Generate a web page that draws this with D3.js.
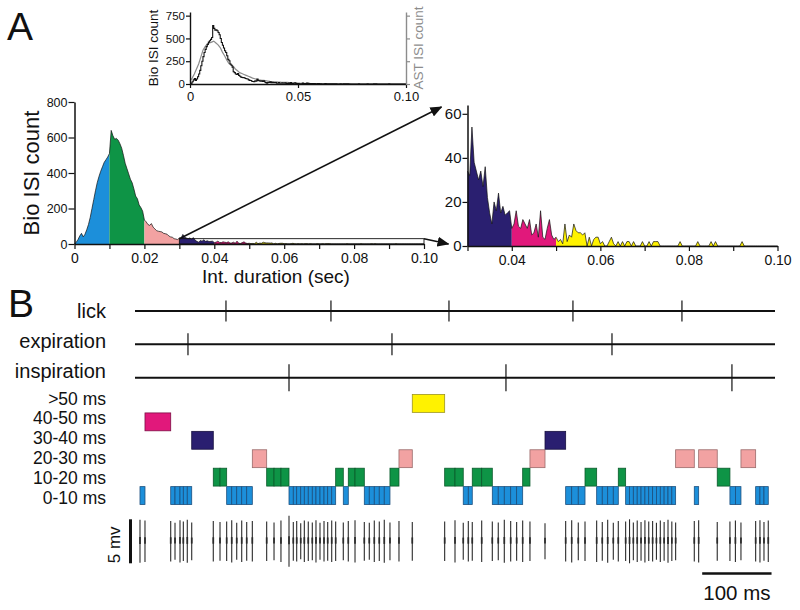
<!DOCTYPE html>
<html><head><meta charset="utf-8">
<script src="https://cdn.jsdelivr.net/npm/d3@7/dist/d3.min.js"></script>
<style>
body{margin:0;background:#fff}
svg{display:block}
text{font-family:"Liberation Sans",Arial,Helvetica,sans-serif;fill:#111}
</style>
</head><body>
<svg id="c" width="800" height="610"></svg>
<script>
// ---------------- DATA ----------------
// Bio ISI histogram: counts at t = k * binWidth (sec), k = 0..200
const binWidth = 0.0005;
const bioCounts = [
  0,10,25,45,60,40,55,80,110,150,200,250,300,345,380,410,435,460,475,490,510,
  640,610,590,595,585,565,540,500,455,425,395,365,345,310,270,255,220,205,185,135,
  125,110,105,115,95,85,75,72,70,68,60,58,55,45,40,38,30,28,25,34,
  32,54,38,34,30,34,27,36,22,15,10,20,16,24,15,18,14,15,16,8,
  10,16,9,8,12,10,8,12,5,6,10,4,16,4,3,8,12,5,3,4,
  2,3,1,10,2,5,4,10,7,6,6,5,6,0,4,0,3,4,4,1,
  2,0,0,2,4,1,0,2,0,2,0,2,2,0,2,0,0,0,2,0,
  0,2,0,2,2,2,0,0,0,0,0,0,0,0,0,2,0,0,0,0,
  0,0,0,2,0,0,0,0,0,2,0,2,0,0,0,0,0,0,0,0,
  0,0,0,2,0,0,0,0,0,0,0,0,0,0,0,0,0,0,0,0
];
// AST ISI histogram (inset, grey): counts at t = k * astStep, k = 0..100
const astStep = 0.001;
const astCounts = [
  30,65,110,165,220,295,370,410,440,450,460,470,450,430,400,350,310,265,225,215,
  195,165,145,125,115,105,95,85,75,65,58,50,45,42,40,37,33,29,26,24,
  23,22,20,19,18,17,16,15,13,12,11,9,8,7,6,6,5,5,4,4,
  4,4,3,3,3,2,2,2,2,1,1,1,1,1,1,0,0,0,0,0,
  0,0,0,0,0,0,0,0,0,0,0,0,0,0,0,0,0,0,0,0,0
];
const isiBounds = [0, 0.01, 0.02, 0.03, 0.04, 0.05, 0.10];
const isiCategories = ["0-10 ms", "10-20 ms", "20-30 ms", "30-40 ms", "40-50 ms", ">50 ms"];
const isiColors = ["#1C8FDA", "#0E9446", "#F2A2A2", "#2A1F70", "#E1187B", "#FFF200"];
const isiStrokes = ["#1B4F7E", "#0B5A2B", "#9A6A6A", "#17113F", "#7D0E45", "#9C9420"];

const mainXTicks = [0,0.01,0.02,0.03,0.04,0.05,0.06,0.07,0.08,0.09,0.10];
const mainYTicks = [0,200,400,600,800];
const zoomXTicks = [0.03,0.04,0.05,0.06,0.07,0.08,0.09,0.10];
const zoomYTicks = [0,20,40,60];
const insetXTicks = [0,0.05,0.10];
const insetYTicks = [0,250,500,750];
const zoomWindow = {x:[0.03,0.10], y:[0,30]};

// Panel B (times in ms)
const eventRows = ["lick", "expiration", "inspiration"];
const lickTimes = [131.2, 282.6, 452.8, 631.6, 788.8];
const expirationTimes = [76.4, 370.6, 687.9];
const inspirationTimes = [222.1, 535.0, 860.9];
const spikeTimes = [
  7.2,14.4,51.5,57.7,64.9,69.7,75.4,81.8,112.9,122.6,
  132.2,139.5,146.7,153.9,161.1,169.2,189.9,200.5,210.5,222.1,
  228.3,233.2,239.0,244.2,249.9,255.7,261.0,266.8,272.6,277.9,
  283.7,289.4,300.4,307.6,317.3,330.7,337.9,345.1,352.3,359.5,
  367.7,380.7,399.9,446.6,461.5,473.4,480.7,486.4,500.0,515.3,
  523.9,532.6,541.8,550.4,559.1,569.6,591.3,621.1,629.8,639.3,
  649.0,665.8,673.9,681.7,689.8,697.0,707.6,713.2,718.7,724.3,
  729.8,735.4,740.9,746.5,752.0,757.6,763.1,768.7,774.2,779.7,
  806.6,812.9,839.7,858.0,865.9,873.9,895.1,901.3,907.1,913.3
];
// class (index into isiCategories) of each interval between consecutive spikes
const isiClass = [
  0,4,0,0,0,0,0,3,1,1,0,0,0,0,0,2,1,1,1,
  0,0,0,0,0,0,0,0,0,0,0,0,
  1,0,1,1,
  0,0,0,0,0,
  1,2,5,1,1,0,0,1,1,
  0,0,0,0,0,
  1,2,3,0,0,0,1,0,0,0,0,1,
  0,0,0,0,0,0,0,0,0,0,0,0,0,
  2,0,2,1,0,0,2,0,0,0
];
// spike peak-to-peak amplitude (mV)
const spikeAmps = [
  4.9,4.7,4.6,4.2,4.8,4.5,4.9,4.3,4.6,4.4,
  4.5,4.8,4.2,4.7,4.4,4.6,4.5,4.3,4.7,5.8,
  4.4,4.6,4.1,4.7,4.5,4.3,4.8,4.2,4.6,4.4,
  4.7,4.5,4.3,4.6,4.8,4.4,4.2,4.7,4.5,4.9,
  4.3,4.6,4.4,4.5,4.8,4.2,4.6,4.4,4.7,4.5,
  4.3,4.9,4.6,4.4,4.7,4.5,4.1,4.6,4.8,4.3,
  4.5,4.7,4.4,4.9,4.2,4.6,4.5,5.0,4.3,4.7,
  4.4,4.8,4.5,4.6,4.2,4.7,4.4,4.9,4.5,4.3,
  4.6,4.8,4.4,4.5,4.7,4.3,4.6,4.8,4.4,4.7
];
const timeDomain = [0, 923];
const scaleBarMs = [818, 918];
const scaleBarMv = 5;

// ---------------- DRAW ----------------
const svg = d3.select("#c");
const FONT = '"Liberation Sans",Arial,sans-serif';
const fmtT = d => d === 0 ? "0" : d3.format(".2f")(d);

// arrow marker
svg.append("defs").append("marker")
  .attr("id","arr").attr("viewBox","0 0 12 10").attr("refX",11).attr("refY",5)
  .attr("markerWidth",12).attr("markerHeight",10).attr("markerUnits","userSpaceOnUse")
  .attr("orient","auto")
  .append("path").attr("d","M0,0 L12,5 L0,10 Z").attr("fill","#111");

function styleAxis(g, fs, sw) {
  g.select(".domain").attr("stroke","#111").attr("stroke-width", sw || 1.5);
  g.selectAll(".tick line").attr("stroke","#111").attr("stroke-width",1.2);
  g.selectAll(".tick text").attr("font-size", fs).attr("font-family", FONT).attr("fill","#111");
}

function drawHist(g, x, y, t0, t1) {
  const pts = bioCounts.map((c,i)=>({t:i*binWidth, c}))
    .filter(d => d.t >= t0 - 1e-9 && d.t <= t1 + 1e-9);
  for (let j = 0; j < isiBounds.length - 1; j++) {
    const a = isiBounds[j], b = isiBounds[j+1];
    const seg = pts.filter(d => d.t >= a - 1e-9 && d.t <= b + 1e-9);
    if (seg.length < 2) continue;
    g.append("path").datum(seg).attr("fill", isiColors[j])
      .attr("d", d3.area().x(d=>x(d.t)).y0(y(0)).y1(d=>y(d.c)));
  }
  g.append("path").datum(pts).attr("fill","none").attr("stroke","#111")
    .attr("stroke-width",0.7).attr("stroke-linejoin","round")
    .attr("d", d3.line().x(d=>x(d.t)).y(d=>y(d.c)));
}

// Panel letters
svg.append("text").attr("x",7).attr("y",40).attr("font-size",39).text("A");
svg.append("text").attr("x",8).attr("y",317).attr("font-size",39).text("B");

// ---- Inset ----
const xI = d3.scaleLinear().domain([0,0.10]).range([190,406]);
const yI = d3.scaleLinear().domain([0,790]).range([84,12]);
const gI = svg.append("g");
gI.append("path").datum(astCounts.map((c,i)=>({t:i*astStep,c})))
  .attr("fill","none").attr("stroke","#8c8c8c").attr("stroke-width",1.2)
  .attr("d", d3.line().x(d=>xI(d.t)).y(d=>yI(d.c)));
gI.append("path").datum(bioCounts.map((c,i)=>({t:i*binWidth,c})))
  .attr("fill","none").attr("stroke","#111").attr("stroke-width",1.1)
  .attr("d", d3.line().x(d=>xI(d.t)).y(d=>yI(d.c)).curve(d3.curveStepAfter));
const axIL = gI.append("g").attr("transform",`translate(${xI(0)},0)`)
  .call(d3.axisLeft(yI).tickValues(insetYTicks).tickSize(4).tickPadding(1).tickSizeOuter(0));
styleAxis(axIL, 11.5, 1.4);
const axIB = gI.append("g").attr("transform",`translate(0,${yI(0)})`)
  .call(d3.axisBottom(xI).tickValues(insetXTicks).tickFormat(fmtT).tickSize(4).tickPadding(4).tickSizeOuter(0));
styleAxis(axIB, 13, 1.4);
const axIR = gI.append("g").attr("transform",`translate(${xI(0.10)},0)`)
  .call(d3.axisRight(yI).tickValues(insetYTicks).tickFormat("").tickSize(4).tickSizeOuter(0));
axIR.select(".domain").attr("stroke","#8c8c8c").attr("stroke-width",1.4);
axIR.selectAll(".tick line").attr("stroke","#8c8c8c").attr("stroke-width",1.2);
gI.append("text").attr("transform",`translate(158,${yI(395)}) rotate(-90)`)
  .attr("text-anchor","middle").attr("font-size",13.5).text("Bio ISI count");
gI.append("text").attr("transform",`translate(423,${yI(395)}) rotate(-90)`)
  .attr("text-anchor","middle").attr("font-size",13.5).style("fill","#8c8c8c").text("AST ISI count");

// ---- Main histogram ----
const xM = d3.scaleLinear().domain([0,0.10]).range([74.5,424]);
const yM = d3.scaleLinear().domain([0,800]).range([244,102]);
const gM = svg.append("g");
drawHist(gM, xM, yM, 0, 0.10);
// zoom box
gM.append("rect").attr("x", xM(zoomWindow.x[0])).attr("y", yM(zoomWindow.y[1]))
  .attr("width", xM(zoomWindow.x[1]) - xM(zoomWindow.x[0]))
  .attr("height", yM(zoomWindow.y[0]) - yM(zoomWindow.y[1]))
  .attr("fill","none").attr("stroke","#111").attr("stroke-width",0.9);
const axMX = gM.append("g").attr("transform",`translate(0,${yM(0)})`)
  .call(d3.axisBottom(xM).tickValues(mainXTicks)
    .tickFormat((d,i)=> i%2===0 ? fmtT(d) : "").tickSize(5).tickPadding(4).tickSizeOuter(0));
styleAxis(axMX, 14);
const axMY = gM.append("g").attr("transform",`translate(${xM(0)},0)`)
  .call(d3.axisLeft(yM).tickValues(mainYTicks).tickSize(6).tickPadding(1).tickSizeOuter(0));
styleAxis(axMY, 12.5);
gM.append("text").attr("transform",`translate(39,${yM(400)}) rotate(-90)`)
  .attr("text-anchor","middle").attr("font-size",22).text("Bio ISI count");
gM.append("text").attr("x",276).attr("y",283).attr("text-anchor","middle")
  .attr("font-size",19).text("Int. duration (sec)");

// ---- Zoomed histogram ----
const xZ = d3.scaleLinear().domain([0.03,0.10]).range([467.5,777.5]);
const yZ = d3.scaleLinear().domain([0,64]).range([246,105]);
const gZ = svg.append("g");
drawHist(gZ, xZ, yZ, 0.03, 0.10);
const axZX = gZ.append("g").attr("transform",`translate(0,${yZ(0)})`)
  .call(d3.axisBottom(xZ).tickValues(zoomXTicks)
    .tickFormat((d,i)=> i%2===1 ? fmtT(d) : "").tickSize(5).tickPadding(4).tickSizeOuter(0));
styleAxis(axZX, 14);
const axZY = gZ.append("g").attr("transform",`translate(${xZ(0.03)},0)`)
  .call(d3.axisLeft(yZ).tickValues(zoomYTicks).tickSize(5).tickPadding(1).tickSizeOuter(0));
styleAxis(axZY, 15);

// arrows from zoom box to zoomed chart
gM.append("line").attr("x1", xM(zoomWindow.x[0])).attr("y1", yM(zoomWindow.y[1]))
  .attr("x2", xZ(0.03) - 26).attr("y2", yZ(64) + 2)
  .attr("stroke","#111").attr("stroke-width",1.6).attr("marker-end","url(#arr)");
gM.append("line").attr("x1", xM(zoomWindow.x[1])).attr("y1", yM(zoomWindow.y[1]))
  .attr("x2", xZ(0.03) - 19).attr("y2", yZ(0) - 2)
  .attr("stroke","#111").attr("stroke-width",1.6).attr("marker-end","url(#arr)");

// ---- Panel B ----
const xT = d3.scaleLinear().domain(timeDomain).range([135,775]);
const yEv = d3.scalePoint().domain(eventRows).range([311,377.7]);
const yEvLab = d3.scalePoint().domain(eventRows).range([318,377.5]);
const eventTimes = {lick: lickTimes, expiration: expirationTimes, inspiration: inspirationTimes};
const tickHalf = {lick: 10.5, expiration: 11, inspiration: 13.5};
const gB = svg.append("g");
eventRows.forEach(r => {
  gB.append("line").attr("x1", xT(timeDomain[0])).attr("x2", xT(timeDomain[1]))
    .attr("y1", yEv(r)).attr("y2", yEv(r)).attr("stroke","#111").attr("stroke-width",2);
  gB.selectAll(null).data(eventTimes[r]).join("line")
    .attr("x1", d=>xT(d)).attr("x2", d=>xT(d))
    .attr("y1", yEv(r) - tickHalf[r]).attr("y2", yEv(r) + tickHalf[r])
    .attr("stroke","#111").attr("stroke-width",1.2);
  gB.append("text").attr("x",106).attr("y",yEvLab(r)).attr("text-anchor","end")
    .attr("font-size",20).text(r);
});

const rowOrder = isiCategories.slice().reverse(); // top: >50 ms
const yRow = d3.scaleBand().domain(rowOrder).range([394.5,504.5]).paddingInner(0.03);
const yRowLab = d3.scalePoint().domain(rowOrder).range([404.5,503.5]);
gB.selectAll(".rowlab").data(rowOrder).join("text")
  .attr("x",106).attr("y", d=>yRowLab(d)).attr("text-anchor","end")
  .attr("font-size",17.5).text(d=>d);

const intervals = isiClass.map((c,i)=>({a: spikeTimes[i], b: spikeTimes[i+1], c}));
gB.selectAll(".isi").data(intervals).join("rect")
  .attr("x", d=>xT(d.a)).attr("width", d=>xT(d.b)-xT(d.a))
  .attr("y", d=>yRow(isiCategories[d.c])).attr("height", yRow.bandwidth())
  .attr("fill", d=>isiColors[d.c]).attr("stroke", d=>isiStrokes[d.c]).attr("stroke-width",0.8);

// spike trace
const yS = d3.scaleLinear().domain([-2.5,2.5]).range([563.3,519.3]);
const spikes = spikeTimes.map((t,i)=>({t, a: spikeAmps[i]}));
gB.selectAll(".sp").data(spikes).join("line")
  .attr("x1", d=>xT(d.t)).attr("x2", d=>xT(d.t))
  .attr("y1", d=>yS(d.a/2)).attr("y2", d=>yS(-d.a/2))
  .attr("stroke","#2a2a2a").attr("stroke-width",1.1);
gB.selectAll(".spc").data(spikes).join("line")
  .attr("x1", d=>xT(d.t)).attr("x2", d=>xT(d.t))
  .attr("y1", d=>yS(d.a*0.1)).attr("y2", d=>yS(-d.a*0.06))
  .attr("stroke","#2a2a2a").attr("stroke-width",1.7);
// 5 mV scale bar
gB.append("line").attr("x1", xT(0)-4.5).attr("x2", xT(0)-4.5)
  .attr("y1", yS(-scaleBarMv/2)).attr("y2", yS(scaleBarMv/2))
  .attr("stroke","#111").attr("stroke-width",3);
gB.append("text").attr("transform",`translate(120,${yS(-scaleBarMv/2)}) rotate(-90)`)
  .attr("text-anchor","start").attr("font-size",17).text("5 mv");
// 100 ms scale bar
gB.append("line").attr("x1", xT(scaleBarMs[0])).attr("x2", xT(scaleBarMs[1]))
  .attr("y1",573.5).attr("y2",573.5).attr("stroke","#111").attr("stroke-width",2.5);
gB.append("text").attr("x", (xT(scaleBarMs[0])+xT(scaleBarMs[1]))/2).attr("y",600)
  .attr("text-anchor","middle").attr("font-size",20.5).text("100 ms");
</script>
</body></html>
